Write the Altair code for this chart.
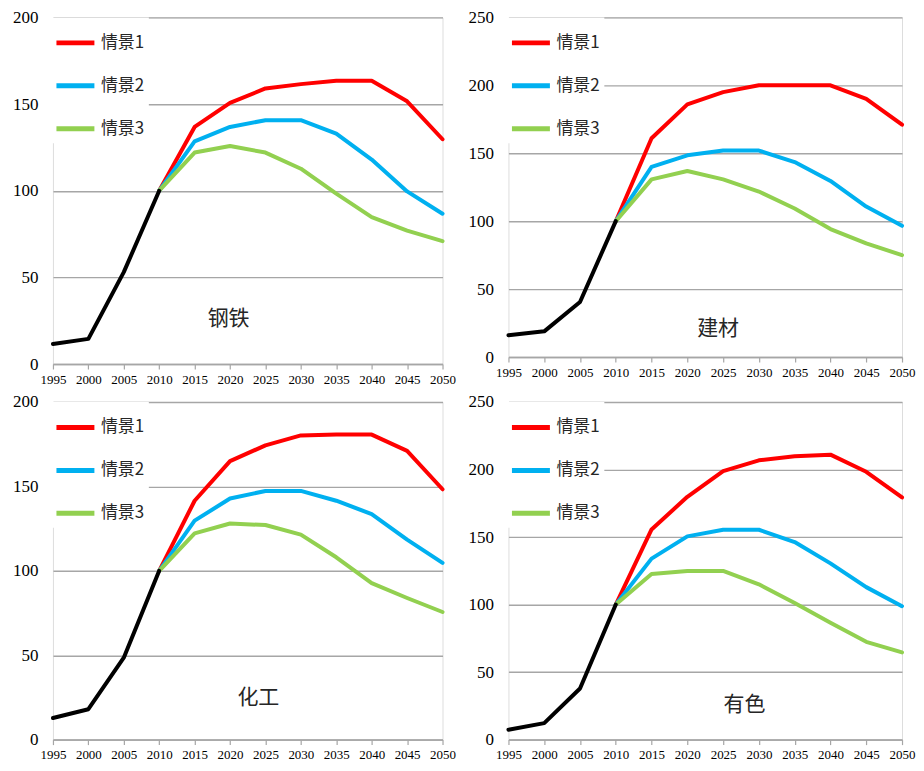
import altair as alt
import pandas as pd

# ---------------- data ----------------
YEARS_HIST = [1995, 2000, 2005, 2010]
YEARS_SCEN = [2010, 2015, 2020, 2025, 2030, 2035, 2040, 2045, 2050]
XTICKS = [1995, 2000, 2005, 2010, 2015, 2020, 2025, 2030, 2035, 2040, 2045, 2050]
SCENARIOS = ["情景1", "情景2", "情景3"]
COLORS = ["#FF0000", "#00B0F0", "#92D050"]

# 钢铁
STEEL_HIST = [11.6, 14.5, 53, 100]
STEEL_S1 = [100, 136.8, 150.7, 159, 161.5, 163.4, 163.4, 151.6, 129.7]
STEEL_S2 = [100, 128.5, 136.8, 140.7, 140.7, 133, 118, 99.6, 86.7]
STEEL_S3 = [100, 122, 125.8, 122, 112.7, 98.3, 84.8, 77, 70.9]

# 建材
BUILD_HIST = [16, 18.9, 40.5, 100]
BUILD_S1 = [100, 161, 186, 195, 200, 200, 200, 190, 171]
BUILD_S2 = [100, 140, 148.5, 152, 152, 143.5, 129.6, 110.8, 96.6]
BUILD_S3 = [100, 130.8, 136.9, 130.8, 121.8, 109.3, 94.2, 83.6, 75]

# 化工
CHEM_HIST = [12.8, 18, 48.5, 100]
CHEM_S1 = [100, 141.5, 165, 174.3, 180.2, 180.7, 180.7, 171, 148.3]
CHEM_S2 = [100, 129.7, 142.8, 147.3, 147.3, 141.5, 133.6, 118.5, 104.7]
CHEM_S3 = [100, 122.2, 128, 127.1, 121.4, 108, 92.7, 83.9, 75.6]

# 有色
METAL_HIST = [7.3, 12.2, 37.8, 100]
METAL_S1 = [100, 155.6, 179.8, 198.8, 206.8, 209.8, 211, 198.3, 179.3]
METAL_S2 = [100, 134, 150.5, 155.4, 155.4, 146.3, 130.5, 112.9, 98.8]
METAL_S3 = [100, 122.7, 124.9, 124.9, 115, 101.2, 86.6, 72.4, 64.6]

PANEL_NAMES = ["钢铁", "建材", "化工", "有色"]
Y_MAX = [200, 250, 200, 250]
# annotation anchor (year, value) for the panel name
LABEL_YEAR = [2019.8, 2024.3, 2024.0, 2028.0]
LABEL_VALUE = [26, 20.6, 24.4, 25.8]

SERIF = "Liberation Serif"
CJK = "Noto Sans CJK SC"


def panel(name, hist, s1, s2, s3, ymax, w, h, lyear, lval):
    hist_df = pd.DataFrame({"year": YEARS_HIST, "value": hist})
    rows = []
    for sc, vals in zip(SCENARIOS, [s1, s2, s3]):
        for yr, v in zip(YEARS_SCEN, vals):
            rows.append({"year": yr, "value": v, "scenario": sc})
    scen_df = pd.DataFrame(rows)
    lab_df = pd.DataFrame({"year": [lyear], "value": [lval], "name": [name]})

    x = alt.X(
        "year:Q",
        scale=alt.Scale(domain=[1995, 2050], nice=False, zero=False),
        axis=alt.Axis(
            values=XTICKS, format="d", title=None, grid=False,
            domain=True, domainColor="#A6A6A6", domainWidth=1.5,
            ticks=True, tickColor="#A6A6A6", tickSize=5, tickWidth=1.2,
            labelFont=SERIF, labelFontSize=13, labelColor="#000000",
            labelPadding=4, labelFlush=False, labelOverlap=False, labelAngle=0,
        ),
    )
    y = alt.Y(
        "value:Q",
        scale=alt.Scale(domain=[0, ymax], nice=False),
        axis=alt.Axis(
            values=list(range(0, ymax + 1, 50)), title=None, grid=True,
            gridColor="#A6A6A6", gridWidth=1.4, domain=False, ticks=False,
            labelFont=SERIF, labelFontSize=17, labelColor="#000000",
            labelPadding=15,
        ),
    )

    scen = alt.Chart(scen_df).mark_line(strokeWidth=4, strokeCap="round", strokeJoin="round").encode(
        x=x, y=y,
        color=alt.Color(
            "scenario:N",
            scale=alt.Scale(domain=SCENARIOS, range=COLORS),
            legend=alt.Legend(
                orient="none", legendX=-3, legendY=0, title=None,
                symbolType="stroke", symbolStrokeWidth=5, symbolSize=1444,
                labelFont=CJK, labelFontSize=17, labelColor="#262626",
                labelOffset=4, rowPadding=11, padding=4, fillColor="white",
            ),
        ),
    )
    black = alt.Chart(hist_df).mark_line(
        strokeWidth=4, color="#000000", strokeCap="round", strokeJoin="round"
    ).encode(x=x, y=y)
    label = alt.Chart(lab_df).mark_text(
        font=CJK, fontSize=21, color="#262626"
    ).encode(x=x, y=y, text="name:N")
    return alt.layer(scen, black, label).properties(width=w, height=h)


p1 = panel(PANEL_NAMES[0], STEEL_HIST, STEEL_S1, STEEL_S2, STEEL_S3, Y_MAX[0], 390, 347, LABEL_YEAR[0], LABEL_VALUE[0])
p2 = panel(PANEL_NAMES[1], BUILD_HIST, BUILD_S1, BUILD_S2, BUILD_S3, Y_MAX[1], 394, 340, LABEL_YEAR[1], LABEL_VALUE[1])
p3 = panel(PANEL_NAMES[2], CHEM_HIST, CHEM_S1, CHEM_S2, CHEM_S3, Y_MAX[2], 390, 338, LABEL_YEAR[2], LABEL_VALUE[2])
p4 = panel(PANEL_NAMES[3], METAL_HIST, METAL_S1, METAL_S2, METAL_S3, Y_MAX[3], 394, 338, LABEL_YEAR[3], LABEL_VALUE[3])

chart = (
    alt.concat(p1, p2, p3, p4, columns=2, spacing={"row": 38, "column": 66},
               bounds="flush", align="each")
    .resolve_scale(color="independent", x="independent", y="independent")
    .resolve_legend(color="independent")
    .properties(padding={"left": 4, "top": -1, "right": 0, "bottom": 0})
    .configure_view(stroke=None)
    .configure(background="white")
)

chart.save("out.html", embed_options={"renderer": "svg", "actions": False})
